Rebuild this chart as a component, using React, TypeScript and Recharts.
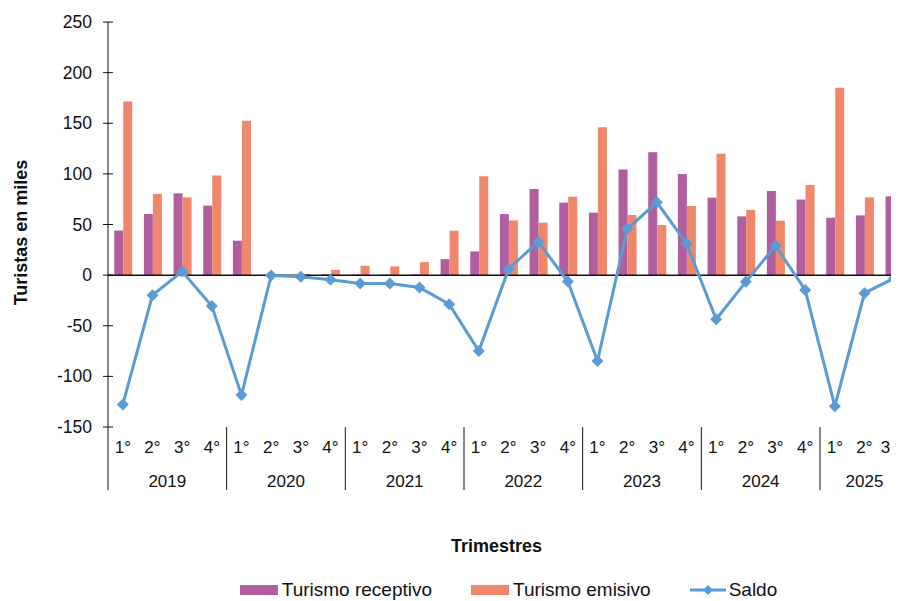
import React from 'react';
import {
  ComposedChart,
  Bar,
  Line,
  XAxis,
  YAxis,
  Legend,
  ReferenceLine,
} from 'recharts';

const years = ['2019', '2019', '2019', '2019', '2020', '2020', '2020', '2020', '2021', '2021', '2021', '2021', '2022', '2022', '2022', '2022', '2023', '2023', '2023', '2023', '2024', '2024', '2024', '2024', '2025', '2025', '2025'];
const quarters = ['1°', '2°', '3°', '4°', '1°', '2°', '3°', '4°', '1°', '2°', '3°', '4°', '1°', '2°', '3°', '4°', '1°', '2°', '3°', '4°', '1°', '2°', '3°', '4°', '1°', '2°', '3°'];
const receptivo = [44, 60.3, 80.8, 68.6, 34, 0.3, 0.2, 0.8, 0.8, 0.5, 0.8, 15.8, 23.4, 60.3, 85.1, 71.6, 61.7, 104.3, 121.4, 100, 76.5, 58, 83.2, 74.6, 56.7, 59, 77.8];
const emisivo = [171.6, 80.2, 76.8, 98.3, 152.5, 0.6, 1.2, 5.2, 9.2, 8.6, 12.8, 43.9, 97.6, 54, 51.8, 77.5, 146.1, 59.4, 49.5, 68.3, 119.8, 64.4, 53.8, 89.1, 185.1, 76.8, 80.5];
const saldo = [-127.7, -19.8, 3.6, -30.4, -118.5, -0.3, -1.5, -4.6, -8.3, -8.3, -12.2, -28.7, -75, 5.9, 33, -6.3, -84.9, 45.5, 71.9, 31.3, -43.6, -6.6, 29, -14.6, -129.4, -17.8, -3];
const yTicks = [-150, -100, -50, 0, 50, 100, 150, 200, 250];

const data = quarters.map((q, i) => ({
  q,
  year: years[i],
  receptivo: receptivo[i],
  emisivo: emisivo[i],
  saldo: saldo[i],
}));

const FONT = '"Liberation Sans", Arial, Helvetica, sans-serif';
const PURPLE = '#B05EA0';
const ORANGE = '#F0876A';
const BLUE = '#5B9BD5';
const INK = '#111';

const W = 905;
const H = 593;
const VISIBLE_W = 891; // the page cuts the chart off here
const MARGIN = { top: 14, right: 4, bottom: 104, left: 0 };
const Y_WIDTH = 100;
const band = (W - MARGIN.left - MARGIN.right - Y_WIDTH) / data.length;

const YTick = (props: any) => {
  const { x, y, payload } = props;
  const axisX = x + 16;
  return (
    <g>
      <line x1={axisX - 5} x2={axisX + 5} y1={y} y2={y} stroke={INK} strokeWidth={1} />
      <text x={x} y={y} dy={6} textAnchor="end" fontFamily={FONT} fontSize={17.5} fill={INK}>
        {payload.value}
      </text>
    </g>
  );
};

const XTick = (props: any) => {
  const { x, y, payload } = props;
  const i = payload.index;
  const top = y - 8;
  const row = data[i];
  let group = null;
  if (i === 0 || data[i - 1].year !== row.year) {
    const n = data.filter((d) => d.year === row.year).length;
    const left = x - band / 2;
    group = (
      <g>
        <line x1={left} x2={left} y1={top} y2={top + 63} stroke={INK} strokeWidth={1} />
        <text x={left + (n * band) / 2} y={top + 60} textAnchor="middle" fontFamily={FONT} fontSize={17} fill={INK}>
          {row.year}
        </text>
      </g>
    );
  }
  // keep the last quarter label inside the visible page
  const tx = Math.min(x, VISIBLE_W - 10);
  return (
    <g>
      {group}
      <text x={tx} y={top + 26} textAnchor="middle" fontFamily={FONT} fontSize={17} fill={INK}>
        {payload.value}
      </text>
    </g>
  );
};

const Diamond = (props: any) => {
  const { cx, cy, index } = props;
  if (cx == null || cy == null) return <g key={`d-${index}`} />;
  const r = 6;
  return (
    <path
      key={`d-${index}`}
      d={`M${cx},${cy - r}L${cx + r},${cy}L${cx},${cy + r}L${cx - r},${cy}Z`}
      fill={BLUE}
    />
  );
};

const YTitle = () => (
  <text
    x={19}
    y={224.5}
    transform="rotate(-90, 19, 224.5)"
    textAnchor="middle"
    fontFamily={FONT}
    fontSize={18}
    fontWeight="bold"
    fill={INK}
  >
    Turistas en miles
  </text>
);

const XTitle = (props: any) => {
  const vb = props.viewBox || { x: 100, y: 419, width: 801 };
  return (
    <text
      x={vb.x + vb.width / 2 - 12}
      y={vb.y + 125}
      textAnchor="middle"
      fontFamily={FONT}
      fontSize={18}
      fontWeight="bold"
      fill={INK}
    >
      Trimestres
    </text>
  );
};

const LegendContent = () => (
  <div
    style={{
      display: 'flex',
      justifyContent: 'center',
      alignItems: 'center',
      fontFamily: FONT,
      fontSize: 19,
      color: INK,
      lineHeight: '20px',
      height: 20,
    }}
  >
    <span style={{ display: 'inline-block', width: 38, height: 10, background: PURPLE, marginRight: 4 }} />
    <span style={{ marginRight: 39 }}>Turismo receptivo</span>
    <span style={{ display: 'inline-block', width: 38, height: 10, background: ORANGE, marginRight: 4 }} />
    <span style={{ marginRight: 39 }}>Turismo emisivo</span>
    <svg width={36} height={14} style={{ marginRight: 3 }}>
      <line x1={0} x2={36} y1={7} y2={7} stroke={BLUE} strokeWidth={3} />
      <path d="M18,2L23,7L18,12L13,7Z" fill={BLUE} />
    </svg>
    <span>Saldo</span>
  </div>
);

export default function App() {
  return (
    <div style={{ width: VISIBLE_W, height: H, overflow: 'hidden', background: '#fff' }}>
      <style>{'html,body{overflow:hidden;}'}</style>
      <ComposedChart width={W} height={H} data={data} margin={MARGIN} barCategoryGap="21%" barGap={0}>
        <XAxis
          dataKey="q"
          interval={0}
          axisLine={false}
          tickLine={false}
          tickSize={6}
          tickMargin={2}
          height={70}
          tick={<XTick />}
          label={<XTitle />}
        />
        <YAxis
          width={Y_WIDTH}
          domain={[-150, 250]}
          ticks={yTicks}
          interval={0}
          allowDataOverflow
          tickLine={false}
          tickSize={5}
          tickMargin={11}
          axisLine={{ stroke: INK, strokeWidth: 1 }}
          tick={<YTick />}
          label={<YTitle />}
        />
        <ReferenceLine y={0} stroke={INK} strokeWidth={1.5} />
        <Bar dataKey="receptivo" name="Turismo receptivo" fill={PURPLE} isAnimationActive={false} />
        <Bar dataKey="emisivo" name="Turismo emisivo" fill={ORANGE} isAnimationActive={false} />
        <Line
          dataKey="saldo"
          name="Saldo"
          type="linear"
          stroke={BLUE}
          strokeWidth={3}
          dot={Diamond}
          activeDot={false}
          isAnimationActive={false}
        />
        <Legend
          layout="horizontal"
          verticalAlign="middle"
          align="center"
          content={<LegendContent />}
          wrapperStyle={{ left: 100, width: 801, top: 572, bottom: 'auto' }}
        />
      </ComposedChart>
    </div>
  );
}
